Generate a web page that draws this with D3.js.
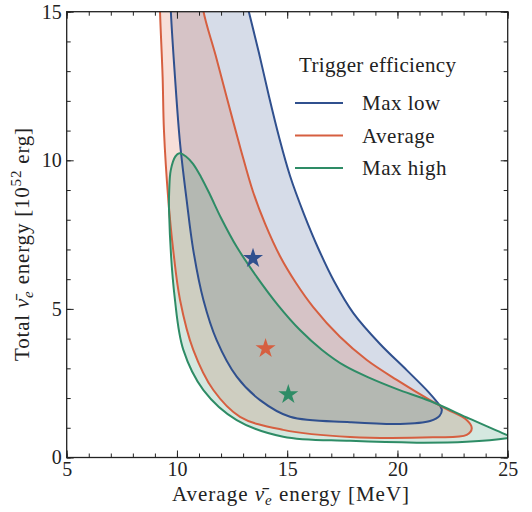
<!DOCTYPE html>
<html>
<head>
<meta charset="utf-8">
<script src="https://cdn.jsdelivr.net/npm/d3@7"></script>
<style>
  body { margin: 0; background: #fff; }
  svg text { font-family: "Liberation Serif", "DejaVu Serif", serif; fill: #222; }
</style>
</head>
<body>
<svg id="chart" width="532" height="512"></svg>
<script>
// contour outlines (x = MeV, y = 1e52 erg)
var maxLow = [
	[9.68,16.07],[9.72,15.06],[9.91,12.81],[10.14,10.58],[10.44,8.66],[10.74,6.98],
	[11.20,5.30],[11.80,3.95],[12.71,2.72],[13.77,1.93],[15.13,1.37],[17.85,1.19],
	[20.12,1.13],[21.48,1.23],[21.91,1.40],[22.01,1.62],[21.79,1.87],[21.40,2.21],
	[20.42,2.94],[19.21,3.82],[18.00,4.86],[17.12,5.94],[16.40,7.05],[15.76,8.19],
	[15.13,9.47],[14.63,10.78],[14.17,12.16],[13.72,13.61],[13.24,15.06],[12.93,16.07]
];
var average = [
	[9.21,16.07],[9.23,15.06],[9.35,12.81],[9.41,11.02],[9.61,8.66],[9.83,6.98],
	[10.14,5.30],[10.74,3.62],[11.65,2.27],[12.86,1.37],[14.82,0.93],[17.85,0.69],
	[21.61,0.68],[23.14,0.76],[23.37,0.98],[23.14,1.26],[22.25,1.62],[21.48,1.93],
	[19.97,2.61],[18.61,3.28],[17.39,4.06],[16.18,5.06],[15.40,5.87],[14.67,6.78],
	[14.00,7.86],[13.45,8.94],[12.90,10.35],[12.29,12.03],[11.75,13.54],[11.19,15.06],
	[11.07,16.07]
];
var maxHigh = [
	[10.11,10.24],[10.41,10.13],[10.73,9.88],[11.09,9.44],[11.50,8.84],[12.00,8.06],
	[12.71,7.09],[13.62,6.08],[14.58,5.13],[15.58,4.29],[16.58,3.62],[17.62,3.08],
	[18.76,2.67],[19.98,2.30],[21.48,1.90],[23.29,1.30],[24.95,0.76],[25.19,0.69],
	[24.95,0.65],[23.14,0.53],[20.87,0.50],[17.85,0.56],[14.82,0.70],[12.71,1.26],
	[11.20,2.27],[10.29,3.62],[9.91,5.30],[9.64,8.33],[9.65,9.00],[9.72,9.67],
	[9.93,10.13]
];
// best-fit points (stars)
var bestFit = [[13.45,6.70],[14.02,3.67],[15.05,2.12]];

var seriesNames = ["Max low", "Average", "Max high"];
var seriesColors = ["#30508e", "#d65f40", "#2e8c66"];
var xTicks = [5, 10, 15, 20, 25];
var yTicks = [0, 5, 10, 15];

var contours = [maxLow, average, maxHigh];

var margin = {top: 11.7, right: 24.3, bottom: 54.5, left: 66.7};
var width = 532 - margin.left - margin.right;
var height = 512 - margin.top - margin.bottom;

var svg = d3.select("#chart");
var g = svg.append("g").attr("transform", "translate(" + margin.left + "," + margin.top + ")");

var x = d3.scaleLinear().domain([5, 25]).range([0, width]);
var y = d3.scaleLinear().domain([0, 15]).range([height, 0]);

g.append("clipPath").attr("id", "plotclip")
	.append("rect").attr("width", width).attr("height", height);

var line = d3.line()
	.x(function(d) { return x(d[0]); })
	.y(function(d) { return y(d[1]); })
	.curve(d3.curveCatmullRomClosed.alpha(0.5));

var plot = g.append("g").attr("clip-path", "url(#plotclip)");

// fills first, then the outlines on top
contours.forEach(function(c, i) {
	plot.append("path")
		.attr("d", line(c))
		.attr("fill", seriesColors[i])
		.attr("fill-opacity", 0.2)
		.attr("stroke", "none");
});
contours.forEach(function(c, i) {
	plot.append("path")
		.attr("d", line(c))
		.attr("fill", "none")
		.attr("stroke", seriesColors[i])
		.attr("stroke-width", 2);
});

var star = d3.symbol().type(d3.symbolStar).size(125);
plot.selectAll(".star")
	.data(bestFit)
	.enter().append("path")
		.attr("class", "star")
		.attr("transform", function(d) { return "translate(" + x(d[0]) + "," + y(d[1]) + ")"; })
		.attr("d", star)
		.attr("fill", function(d, i) { return seriesColors[i]; });

// axes: ticks pointing inward on all four sides
var minorX = d3.range(5, 26, 1), minorY = d3.range(0, 16, 1);

function styleAxis(sel) {
	sel.select(".domain").remove();
	sel.selectAll("line").attr("stroke", "#222").attr("stroke-width", 1);
	sel.selectAll("text").attr("font-size", 20).attr("font-family", '"Liberation Serif", serif');
}

g.append("g").attr("transform", "translate(0," + height + ")")
	.call(d3.axisBottom(x).tickValues(minorX).tickSize(-4).tickFormat(""))
	.call(styleAxis);
g.append("g").attr("transform", "translate(0," + height + ")")
	.call(d3.axisBottom(x).tickValues(xTicks).tickSize(-7).tickPadding(4).tickFormat(d3.format("d")))
	.call(styleAxis);
g.append("g")
	.call(d3.axisTop(x).tickValues(minorX).tickSize(-4).tickFormat(""))
	.call(styleAxis);
g.append("g")
	.call(d3.axisTop(x).tickValues(xTicks).tickSize(-7).tickFormat(""))
	.call(styleAxis);

g.append("g")
	.call(d3.axisLeft(y).tickValues(minorY).tickSize(-4).tickFormat(""))
	.call(styleAxis);
g.append("g")
	.call(d3.axisLeft(y).tickValues(yTicks).tickSize(-7).tickPadding(5).tickFormat(d3.format("d")))
	.call(styleAxis);
g.append("g").attr("transform", "translate(" + width + ",0)")
	.call(d3.axisRight(y).tickValues(minorY).tickSize(-4).tickFormat(""))
	.call(styleAxis);
g.append("g").attr("transform", "translate(" + width + ",0)")
	.call(d3.axisRight(y).tickValues(yTicks).tickSize(-7).tickFormat(""))
	.call(styleAxis);

g.append("rect")
	.attr("width", width).attr("height", height)
	.attr("fill", "none").attr("stroke", "#222").attr("stroke-width", 1.3);

// axis titles
var xl = svg.append("text")
	.attr("x", 291).attr("y", 501)
	.attr("text-anchor", "middle").attr("font-size", 21).attr("letter-spacing", 1);
xl.append("tspan").text("Average ");
xl.append("tspan").attr("font-style", "italic").text("\u03BD\u0304");
xl.append("tspan").attr("font-style", "italic").attr("font-size", 15).attr("dy", 4).text("e");
xl.append("tspan").attr("dy", -4).text(" energy [MeV]");

var yl = svg.append("text")
	.attr("transform", "translate(28.5,244) rotate(-90)")
	.attr("text-anchor", "middle").attr("font-size", 21).attr("letter-spacing", 0.8);
yl.append("tspan").text("Total ");
yl.append("tspan").attr("font-style", "italic").text("\u03BD\u0304");
yl.append("tspan").attr("font-style", "italic").attr("font-size", 15).attr("dy", 4).text("e");
yl.append("tspan").attr("dy", -4).text(" energy [10");
yl.append("tspan").attr("font-size", 15).attr("dy", -8).text("52");
yl.append("tspan").attr("dy", 8).text(" erg]");

// legend
var legend = svg.append("g").attr("transform", "translate(299,0)");
legend.append("text").attr("x", 0).attr("y", 72).attr("font-size", 21)
	.attr("letter-spacing", 0.35).text("Trigger efficiency");
seriesNames.forEach(function(name, i) {
	var yy = 103 + i * 32.5;
	legend.append("line")
		.attr("x1", -4).attr("x2", 44).attr("y1", yy).attr("y2", yy)
		.attr("stroke", seriesColors[i]).attr("stroke-width", 2);
	legend.append("text").attr("x", 63).attr("y", yy + 7).attr("font-size", 21)
		.attr("letter-spacing", 0.5).text(name);
});
</script>
</body>
</html>
